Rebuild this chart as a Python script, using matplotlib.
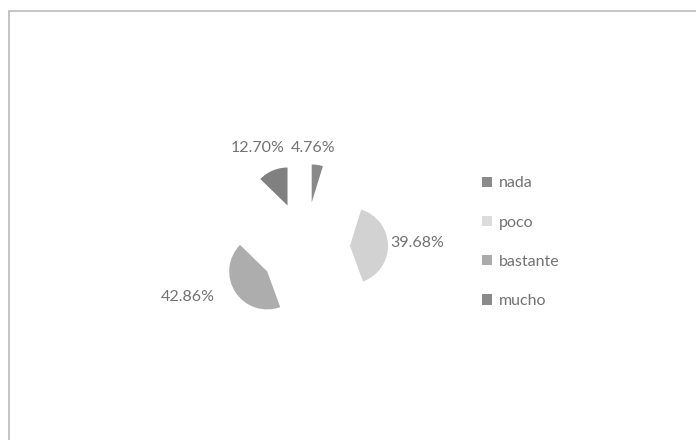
import matplotlib.pyplot as plt
from matplotlib.patches import Rectangle

# Data
categories = ["nada", "poco", "bastante", "mucho"]
percentages = [4.76, 39.68, 42.86, 12.70]
colors = ["#898989", "#d2d2d2", "#adadad", "#808080"]
legend_colors = ["#8a8a8a", "#dcdcdc", "#ababab", "#8a8a8a"]

# label positions in pixels (from top-left), one per slice
label_pos = [(313, 148), (417, 243), (188, 297), (258, 148)]

W, H = 696, 440
plt.rcParams["font.family"] = ["Lato", "DejaVu Sans"]
text_color = "#727272"

fig = plt.figure(figsize=(W / 100, H / 100), dpi=100)
ax = fig.add_axes([0, 0, 1, 1])

# chart frame (only top and left edges are visible in the scan)
ax.add_patch(Rectangle((8.5, -10), W + 20, H - 10.5 + 10, fill=False,
                       edgecolor="#b4b4b4", linewidth=1.1))

# small pie, strongly exploded (explode is in data units here)
radius = 38
ax.pie(percentages, colors=colors, startangle=90, counterclock=False,
       center=(305, H - 247), radius=radius,
       explode=[45] * len(percentages),
       wedgeprops={"linewidth": 0}, frame=True)
ax.set_xlim(0, W)
ax.set_ylim(0, H)
ax.set_aspect("equal")
ax.axis("off")

for pct, (x, y) in zip(percentages, label_pos):
    ax.text(x, H - y, f"{pct:.2f}%", ha="center", va="center",
            fontsize=11.5, color=text_color)

# legend
handles = [Rectangle((0, 0), 1, 1, facecolor=c, edgecolor="none") for c in legend_colors]
ax.legend(handles, categories, loc="upper left", bbox_to_anchor=(476 / W, 1 - 170 / H),
          frameon=False, fontsize=11.5, labelcolor=text_color,
          handlelength=0.6, handleheight=0.6, handletextpad=0.45,
          labelspacing=1.58, borderaxespad=0)

fig.savefig("out.png", dpi=100, facecolor="white")
